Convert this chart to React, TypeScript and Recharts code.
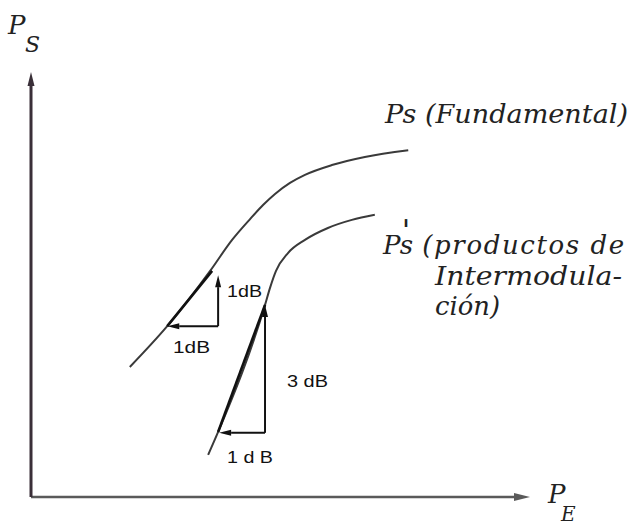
import { ComposedChart, Line, ReferenceLine, XAxis, YAxis } from 'recharts'

// Esquema Ps vs Pe: curva fundamental (pendiente 1) y productos de intermodulación (pendiente 3).
// Unidades arbitrarias 0..100 en ambos ejes.
const fundamentalPE = [19.8, 27.3, 35.9, 40.3, 43.9, 46.5, 48.9, 51.9, 54.9, 60.3, 66.9, 75.6]
const fundamentalPS = [30.6, 40.2, 53.2, 60.5, 65.4, 68.7, 71.3, 73.9, 75.8, 78.1, 80.0, 81.6]

const intermodPE = [35.5, 37.5, 46.9, 47.9, 49.1, 51.5, 54.9, 59.5, 64.3, 68.9]
const intermodPS = [9.9, 15.3, 45.2, 49.2, 53.2, 57.4, 60.5, 63.3, 65.2, 66.4]

// tangentes (tramo lineal) y escalones 1 dB / 1 dB y 1 dB / 3 dB
const fundTangentPE = [27.3, 36.3]
const fundTangentPS = [40.2, 53.2]
const fundStepPE = [27.3, 37.5]
const fundStepPS = [40.2, 52.2]

const imTangentPE = [37.5, 46.9]
const imTangentPS = [15.3, 45.2]
const imStepPE = [37.7, 46.9]
const imStepPS = [15.1, 45.2]

const stepLabels = ['1dB', '1dB', '3 dB', '1 d B']

const fundamental = fundamentalPE.map((pe, i) => ({ pe, ps: fundamentalPS[i] }))
const intermod = intermodPE.map((pe, i) => ({ pe, ps: intermodPS[i] }))

const INK = '#222'
const HAND = '"DejaVu Serif", serif'
const SANS = '"Liberation Sans", Arial, sans-serif'

function arrow(color: string, width: number, len: number, half: number) {
  return (p: any) => {
    const { x1, y1, x2, y2 } = p
    const a = Math.atan2(y2 - y1, x2 - x1)
    const bx = x2 - len * Math.cos(a)
    const by = y2 - len * Math.sin(a)
    const nx = -Math.sin(a) * half
    const ny = Math.cos(a) * half
    return (
      <g>
        <line x1={x1} y1={y1} x2={bx} y2={by} stroke={color} strokeWidth={width} />
        <polygon
          points={`${x2},${y2} ${bx + nx},${by + ny} ${bx - nx},${by - ny}`}
          fill={color}
        />
      </g>
    )
  }
}

export default function App() {
  return (
    <div style={{ position: 'absolute', left: 0, top: 0, background: '#fff' }}>
      <ComposedChart
        width={639}
        height={526}
        margin={{ top: 72, right: 109, bottom: 29, left: 31 }}
      >
        <XAxis type="number" dataKey="pe" domain={[0, 100]} hide />
        <YAxis type="number" dataKey="ps" domain={[0, 100]} hide />

        {/* ejes con flecha */}
        <ReferenceLine
          segment={[{ x: 0, y: 0 }, { x: 100, y: 0 }]}
          ifOverflow="visible"
          shape={arrow('#5a5a5a', 2.5, 16, 4)}
        />
        <ReferenceLine
          segment={[{ x: 0, y: 0 }, { x: 0, y: 100 }]}
          ifOverflow="visible"
          shape={arrow('#3a2f38', 3, 14, 3.5)}
        />

        <Line
          data={fundamental}
          dataKey="ps"
          type="monotone"
          stroke="#3a3a3a"
          strokeWidth={2}
          dot={false}
          activeDot={false}
          isAnimationActive={false}
        />
        <Line
          data={intermod}
          dataKey="ps"
          type="monotone"
          stroke="#3a3a3a"
          strokeWidth={2}
          dot={false}
          activeDot={false}
          isAnimationActive={false}
        />

        {/* tangentes */}
        <ReferenceLine
          segment={[
            { x: fundTangentPE[0], y: fundTangentPS[0] },
            { x: fundTangentPE[1], y: fundTangentPS[1] },
          ]}
          stroke="#111"
          strokeWidth={2.6}
        />
        <ReferenceLine
          segment={[
            { x: imTangentPE[0], y: imTangentPS[0] },
            { x: imTangentPE[1], y: imTangentPS[1] },
          ]}
          stroke="#111"
          strokeWidth={2.6}
        />

        {/* escalones */}
        <ReferenceLine
          segment={[
            { x: fundStepPE[1], y: fundStepPS[0] },
            { x: fundStepPE[0], y: fundStepPS[0] },
          ]}
          shape={arrow('#111', 2, 12, 3)}
        />
        <ReferenceLine
          segment={[
            { x: fundStepPE[1], y: fundStepPS[0] },
            { x: fundStepPE[1], y: fundStepPS[1] },
          ]}
          shape={arrow('#111', 2, 12, 3)}
        />
        <ReferenceLine
          segment={[
            { x: imStepPE[1], y: imStepPS[0] },
            { x: imStepPE[0], y: imStepPS[0] },
          ]}
          shape={arrow('#111', 2, 12, 3)}
        />
        <ReferenceLine
          segment={[
            { x: imStepPE[1], y: imStepPS[0] },
            { x: imStepPE[1], y: imStepPS[1] },
          ]}
          shape={arrow('#111', 2, 12, 3)}
        />

        <g fontFamily={SANS} fontSize={17} fill="#111">
          <text x={227} y={297} textLength={35} lengthAdjust="spacingAndGlyphs">
            {stepLabels[0]}
          </text>
          <text x={173} y={353} textLength={37} lengthAdjust="spacingAndGlyphs">
            {stepLabels[1]}
          </text>
          <text x={287} y={387} textLength={41} lengthAdjust="spacingAndGlyphs">
            {stepLabels[2]}
          </text>
          <text x={227} y={463} fontSize={16} textLength={46} lengthAdjust="spacingAndGlyphs">
            {stepLabels[3]}
          </text>
        </g>

        <g fontFamily={HAND} fontStyle="italic" fill={INK}>
          <text x={8} y={34} fontSize={26}>P</text>
          <text x={25} y={52} fontSize={22}>S</text>
          <text x={548} y={503} fontSize={26}>P</text>
          <text x={561} y={521} fontSize={20}>E</text>

          <text x={385} y={123} fontSize={26} textLength={243} lengthAdjust="spacingAndGlyphs">
            Ps (Fundamental)
          </text>
          <text x={383} y={254} fontSize={26}>
            Ps
            <tspan dx={-12} dy={-9} fontStyle="normal" fontSize={34}>ˈ</tspan>
            <tspan dx={2} dy={9} letterSpacing={1.6}> (productos de</tspan>
          </text>
          <text x={435} y={285} fontSize={26} textLength={187} lengthAdjust="spacingAndGlyphs">
            Intermodula-
          </text>
          <text x={435} y={315} fontSize={26} textLength={65} lengthAdjust="spacingAndGlyphs">
            ción)
          </text>
        </g>
      </ComposedChart>
    </div>
  )
}
